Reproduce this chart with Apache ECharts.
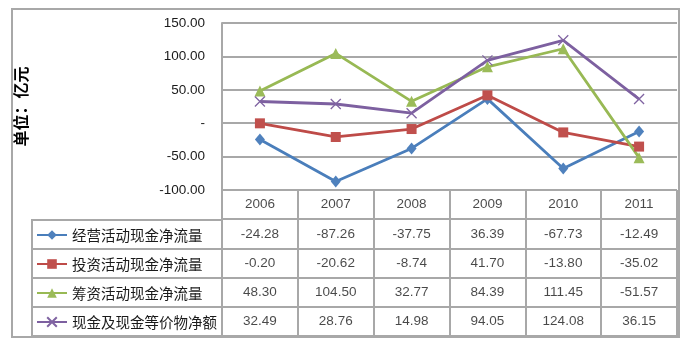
<!DOCTYPE html>
<html>
<head>
<meta charset="utf-8">
<script src="https://cdn.jsdelivr.net/npm/echarts@6/dist/echarts.min.js"></script>
<style>
html,body{margin:0;padding:0;background:#fff;}
#chart{width:688px;height:347px;}
</style>
</head>
<body>
<div id="chart"></div>
<script>
// ---- data ----
var years = ['2006', '2007', '2008', '2009', '2010', '2011'];
var seriesNames = ['经营活动现金净流量', '投资活动现金净流量', '筹资活动现金净流量', '现金及现金等价物净额'];
var operating = [-24.28, -87.26, -37.75, 36.39, -67.73, -12.49];
var investing = [-0.20, -20.62, -8.74, 41.70, -13.80, -35.02];
var financing = [48.30, 104.50, 32.77, 84.39, 111.45, -51.57];
var netCash = [32.49, 28.76, 14.98, 94.05, 124.08, 36.15];
var yMin = -100, yMax = 150, yStep = 50;
var unitLabel = '单位：亿元';

// ---- styles ----
var colors = ['#4F81BD', '#C0504D', '#9BBB59', '#8064A2'];
var lineColors = ['#4A7EBB', '#BE4B48', '#98B954', '#7D60A0'];
var gridColor = '#a8a8a8';
var gridWidth = 2;
var textColor = '#1a1a1a';
var numFont = '"Liberation Sans", Arial, "Noto Sans CJK SC", sans-serif';
var cjkFont = '"Noto Sans CJK SC", "Liberation Sans", sans-serif';
var allSeries = [operating, investing, financing, netCash];
var symbols = [
  {symbol: 'diamond', size: [10, 12]},
  {symbol: 'rect', size: 10},
  {symbol: 'triangle', size: 11},
  {symbol: 'path://M0,0L10,10M10,0L0,10', size: 10}
];

var chart = echarts.init(document.getElementById('chart'), null, {renderer: 'canvas'});

var lineSeries = seriesNames.map(function (name, i) {
  return {
    name: name,
    type: 'line',
    xAxisIndex: 0,
    yAxisIndex: 0,
    data: allSeries[i],
    symbol: symbols[i].symbol,
    symbolSize: symbols[i].size,
    showAllSymbol: true,
    lineStyle: {color: lineColors[i], width: 2.8},
    itemStyle: i === 3
      ? {color: colors[i], borderColor: colors[i], borderWidth: 1.3}
      : {color: colors[i], borderWidth: 0},
    z: 3,
    animation: false
  };
});

// table cells (header years + values)
var cellData = [];
years.forEach(function (y, xi) {
  cellData.push([xi, 0, y]);
});
allSeries.forEach(function (arr, si) {
  arr.forEach(function (v, xi) {
    cellData.push([xi, si + 1, v.toFixed(2)]);
  });
});

var option = {
  backgroundColor: '#ffffff',
  animation: false,
  graphic: [{
    type: 'rect',
    shape: {x: 12, y: 9, width: 667, height: 328},
    style: {fill: 'none', stroke: gridColor, lineWidth: gridWidth},
    silent: true,
    z: -1
  }],
  legend: {
    orient: 'vertical',
    left: 31,
    top: 222.5,
    itemWidth: 30,
    itemHeight: 12,
    itemGap: 14,
    data: seriesNames,
    textStyle: {fontFamily: cjkFont, fontSize: 14.5, color: textColor, lineHeight: 15},
    selectedMode: false
  },
  grid: [
    {left: 222, top: 23, width: 455, height: 167, containLabel: false},
    {left: 222, top: 190, width: 455, height: 146, containLabel: false},
    {left: 32, top: 220, width: 190, height: 116, containLabel: false,
     show: true, borderColor: gridColor, borderWidth: gridWidth, backgroundColor: 'transparent'}
  ],
  xAxis: [
    {
      gridIndex: 0, type: 'category', data: years, boundaryGap: true,
      axisLine: {show: true, lineStyle: {color: gridColor, width: gridWidth}},
      axisTick: {show: false},
      axisLabel: {show: false},
      splitLine: {show: false}
    },
    {
      gridIndex: 1, type: 'category', data: years, boundaryGap: true,
      axisLine: {show: false},
      axisTick: {show: false},
      axisLabel: {show: false},
      splitLine: {show: true, lineStyle: {color: gridColor, width: gridWidth}}
    },
    {
      gridIndex: 2, type: 'category', data: [''], boundaryGap: true,
      axisLine: {show: false}, axisTick: {show: false}, axisLabel: {show: false},
      splitLine: {show: false}
    }
  ],
  yAxis: [
    {
      gridIndex: 0, type: 'value', min: yMin, max: yMax, interval: yStep,
      name: unitLabel, nameLocation: 'middle', nameRotate: 90, nameGap: 193,
      nameTextStyle: {fontFamily: cjkFont, fontSize: 16, fontWeight: 'bold', color: '#000'},
      axisLine: {show: true, lineStyle: {color: gridColor, width: gridWidth}},
      axisTick: {show: false},
      axisLabel: {
        margin: 17, fontFamily: numFont, fontSize: 13.5, color: textColor,
        formatter: function (v) { return v === 0 ? '-' : v.toFixed(2); }
      },
      splitLine: {show: true, lineStyle: {color: gridColor, width: gridWidth}}
    },
    {
      gridIndex: 1, type: 'category', data: [''].concat(seriesNames), inverse: true,
      axisLine: {show: false}, axisTick: {show: false}, axisLabel: {show: false},
      splitLine: {show: true, lineStyle: {color: gridColor, width: gridWidth}}
    },
    {
      gridIndex: 2, type: 'category', data: seriesNames, inverse: true,
      axisLine: {show: false}, axisTick: {show: false}, axisLabel: {show: false},
      splitLine: {show: true, lineStyle: {color: gridColor, width: gridWidth}}
    }
  ],
  series: lineSeries.concat([{
    type: 'scatter',
    name: 'table',
    xAxisIndex: 1,
    yAxisIndex: 1,
    data: cellData,
    symbolSize: 1,
    itemStyle: {color: 'rgba(0,0,0,0)'},
    silent: true,
    label: {
      show: true, position: 'inside',
      fontFamily: numFont, fontSize: 13.5, color: textColor,
      formatter: function (p) { return p.value[2]; }
    },
    animation: false
  }])
};

chart.setOption(option);
</script>
</body>
</html>
